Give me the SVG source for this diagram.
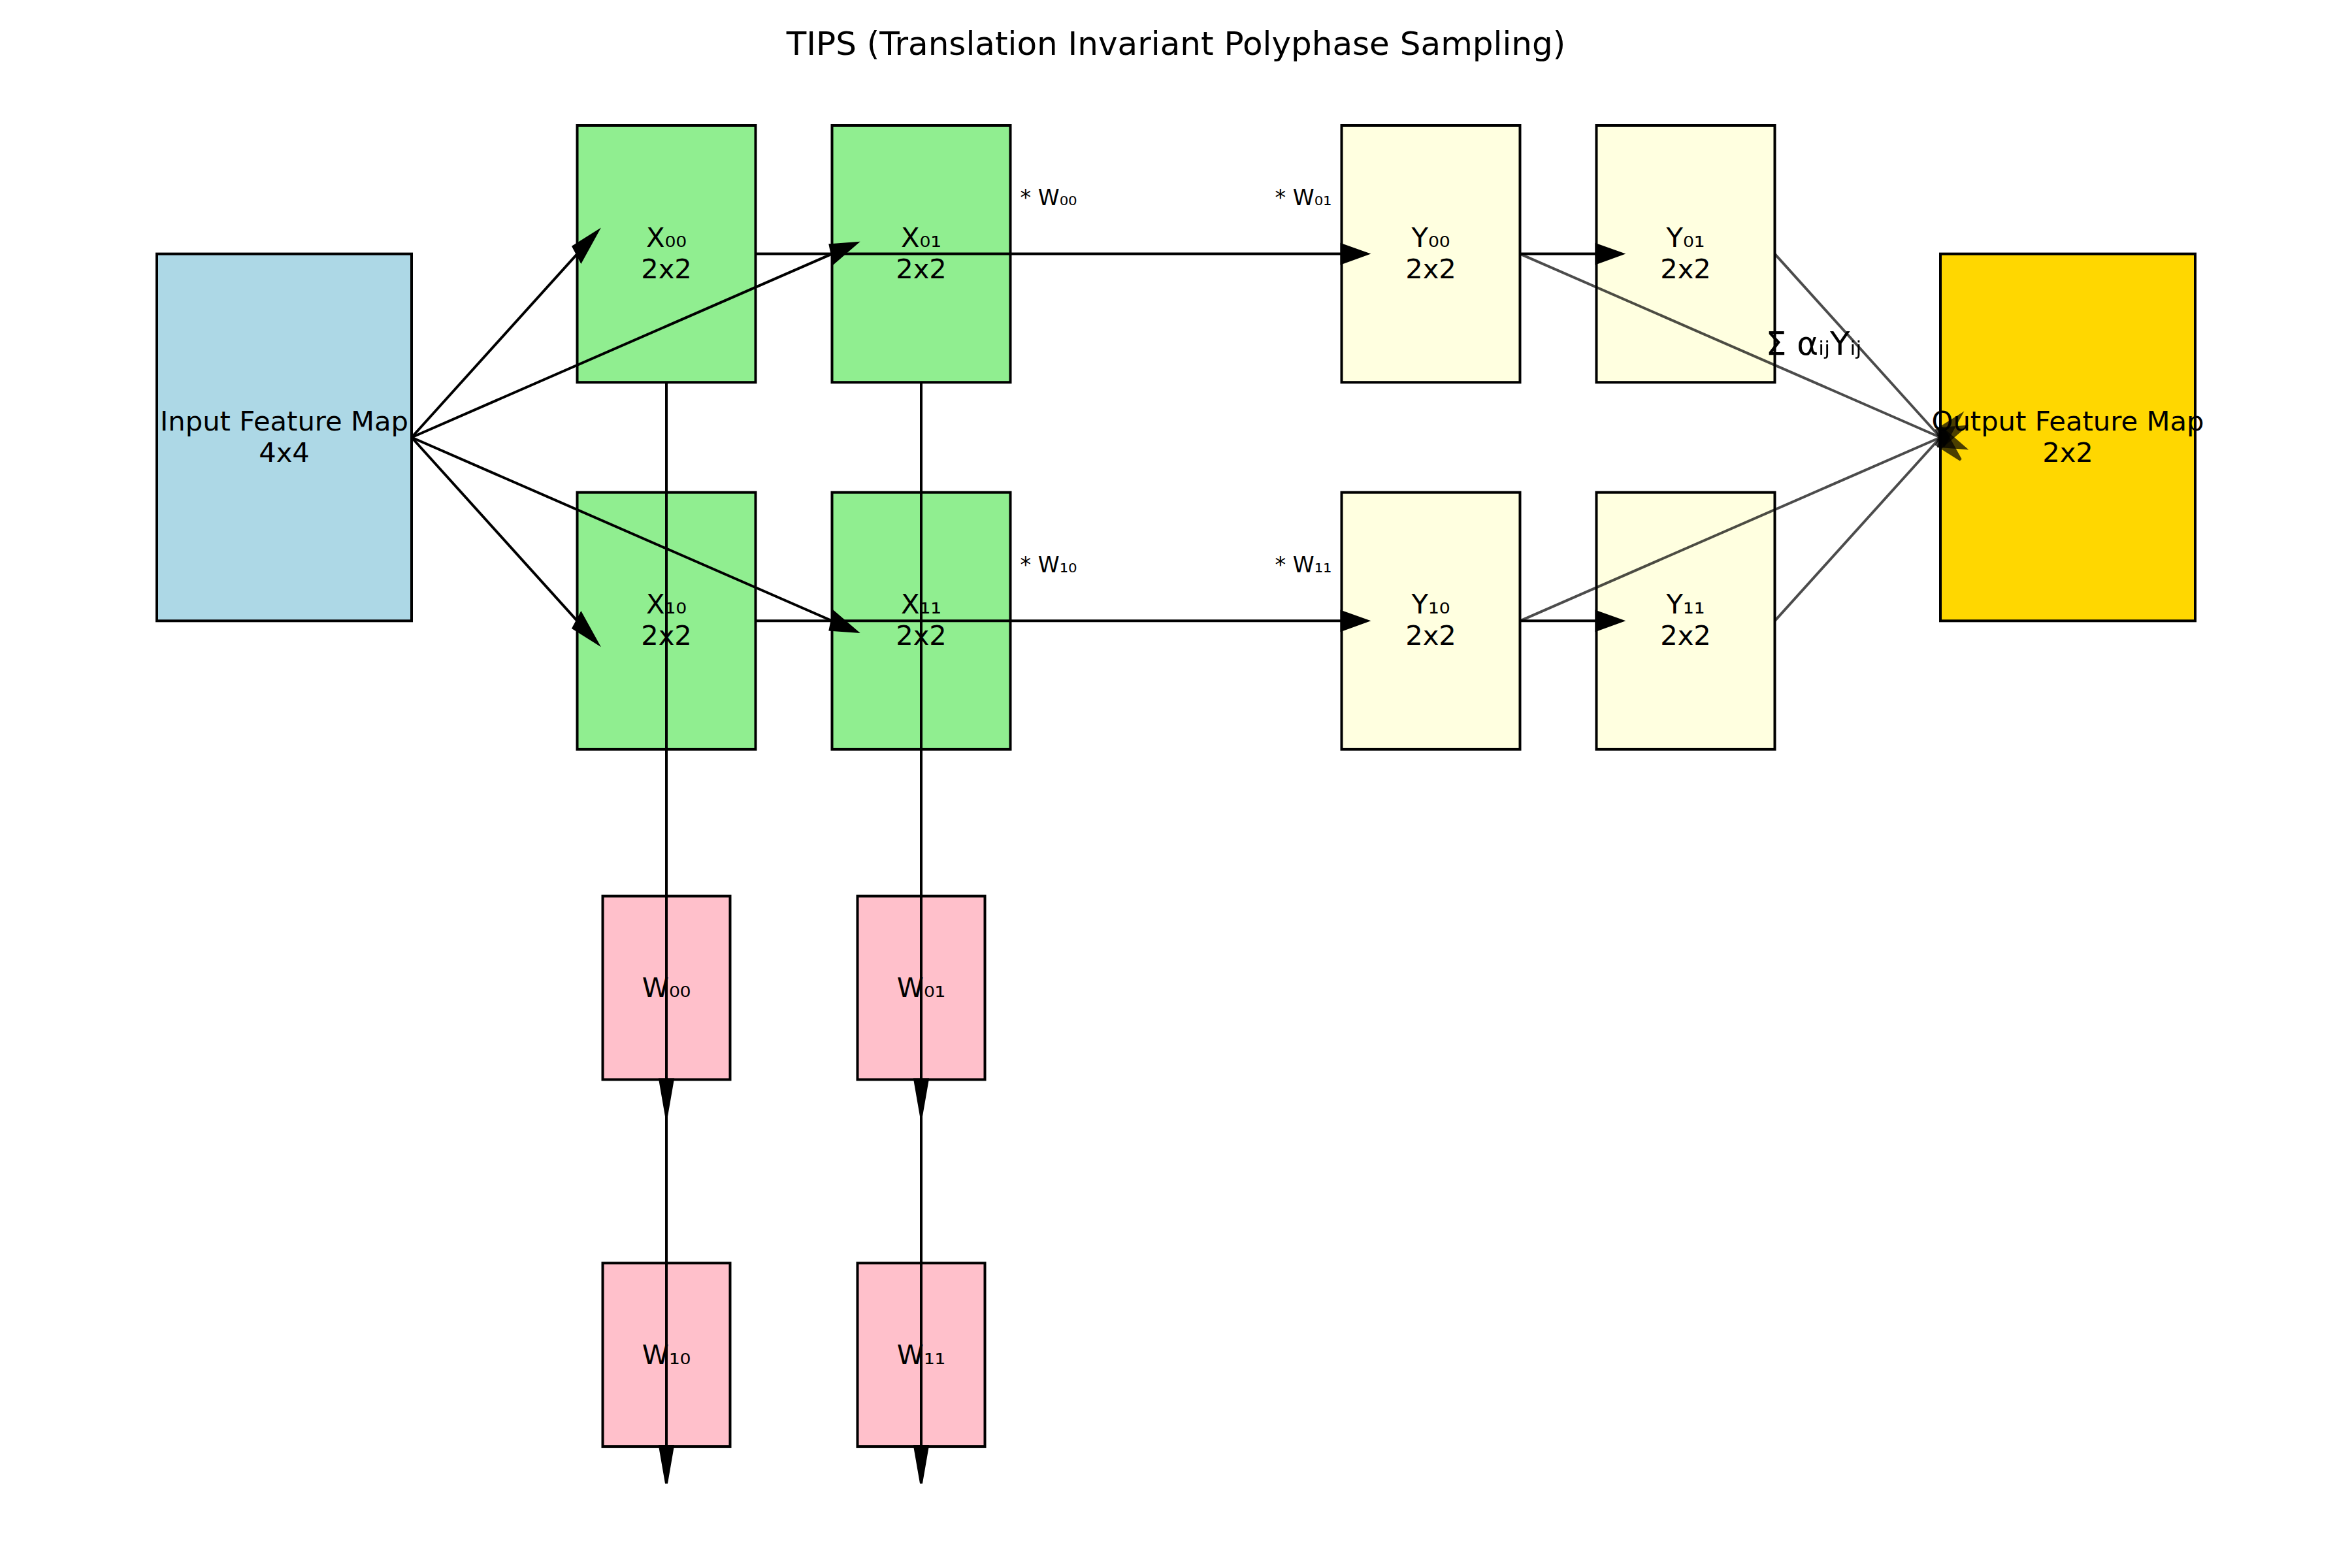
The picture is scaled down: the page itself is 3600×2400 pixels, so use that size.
<svg xmlns="http://www.w3.org/2000/svg" width="3600" height="2400" viewBox="0 0 3600 2400">
<style>
text{font-family:"DejaVu Sans","Liberation Sans",sans-serif;fill:#000}
.lbl{font-size:41.7px;text-anchor:middle}
.sm{font-size:33.3px;text-anchor:middle}
.big{font-size:50px;text-anchor:middle}
.box{stroke:#000;stroke-width:4}
.in{fill:#ADD8E6}.x{fill:#90EE90}.y{fill:#FFFFE0}.w{fill:#FFC0CB}.out{fill:#FFD700}
.ln{stroke:#000;stroke-width:4;fill:none}
.hd{fill:#000;stroke:#000;stroke-width:4}
</style>
<rect width="3600" height="2400" fill="#fff"/>
<text class="big" x="1800" y="84">TIPS (Translation Invariant Polyphase Sampling)</text>

<g id="input"><rect class="box in" x="240" y="388.6" width="390" height="561.7"/><text class="lbl" x="435" y="658.5">Input Feature Map</text><text class="lbl" x="435" y="706.5">4x4</text></g>
<g id="x00"><rect class="box x" x="883.5" y="192" width="273" height="393.2"/><text class="lbl" x="1020" y="377.6">X₀₀</text><text class="lbl" x="1020" y="425.6">2x2</text></g>
<g id="x01"><rect class="box x" x="1273.5" y="192" width="273" height="393.2"/><text class="lbl" x="1410" y="377.6">X₀₁</text><text class="lbl" x="1410" y="425.6">2x2</text></g>
<g id="x10"><rect class="box x" x="883.5" y="753.7" width="273" height="393.2"/><text class="lbl" x="1020" y="939.3">X₁₀</text><text class="lbl" x="1020" y="987.3">2x2</text></g>
<g id="x11"><rect class="box x" x="1273.5" y="753.7" width="273" height="393.2"/><text class="lbl" x="1410" y="939.3">X₁₁</text><text class="lbl" x="1410" y="987.3">2x2</text></g>
<g id="y00"><rect class="box y" x="2053.5" y="192" width="273" height="393.2"/><text class="lbl" x="2190" y="377.6">Y₀₀</text><text class="lbl" x="2190" y="425.6">2x2</text></g>
<g id="y01"><rect class="box y" x="2443.5" y="192" width="273" height="393.2"/><text class="lbl" x="2580" y="377.6">Y₀₁</text><text class="lbl" x="2580" y="425.6">2x2</text></g>
<g id="y10"><rect class="box y" x="2053.5" y="753.7" width="273" height="393.2"/><text class="lbl" x="2190" y="939.3">Y₁₀</text><text class="lbl" x="2190" y="987.3">2x2</text></g>
<g id="y11"><rect class="box y" x="2443.5" y="753.7" width="273" height="393.2"/><text class="lbl" x="2580" y="939.3">Y₁₁</text><text class="lbl" x="2580" y="987.3">2x2</text></g>
<g id="w00"><rect class="box w" x="922.5" y="1371.6" width="195" height="280.8"/><text class="lbl" x="1020" y="1526">W₀₀</text></g>
<g id="w01"><rect class="box w" x="1312.5" y="1371.6" width="195" height="280.8"/><text class="lbl" x="1410" y="1526">W₀₁</text></g>
<g id="w10"><rect class="box w" x="922.5" y="1933.3" width="195" height="280.8"/><text class="lbl" x="1020" y="2088">W₁₀</text></g>
<g id="w11"><rect class="box w" x="1312.5" y="1933.3" width="195" height="280.8"/><text class="lbl" x="1410" y="2088">W₁₁</text></g>
<g id="output"><rect class="box out" x="2970" y="388.6" width="390" height="561.7"/><text class="lbl" x="3165" y="658.5">Output Feature Map</text><text class="lbl" x="3165" y="706.5">2x2</text></g>

<g id="connectors">
<line class="ln" x1="630" y1="669.5" x2="883.5" y2="388.6"/><polygon class="hd" points="889.4,399.7 914.4,354.4 877.6,377.5"/>
<line class="ln" x1="630" y1="669.5" x2="1273.5" y2="388.6"/><polygon class="hd" points="1276.3,402 1310.8,372.3 1270.7,375.2"/>
<line class="ln" x1="630" y1="669.5" x2="883.5" y2="950.3"/><polygon class="hd" points="877.6,961.4 914.4,984.5 889.4,939.2"/>
<line class="ln" x1="630" y1="669.5" x2="1273.5" y2="950.3"/><polygon class="hd" points="1270.7,963.7 1310.8,966.6 1276.3,936.9"/>
<line class="ln" x1="1156.5" y1="388.6" x2="2053.5" y2="388.6"/><polygon class="hd" points="2053.5,374.6 2092.5,388.6 2053.5,402.6"/>
<line class="ln" x1="1156.5" y1="950.3" x2="2053.5" y2="950.3"/><polygon class="hd" points="2053.5,936.3 2092.5,950.3 2053.5,964.3"/>
<line class="ln" x1="2326.5" y1="388.6" x2="2443.5" y2="388.6"/><polygon class="hd" points="2443.5,374.6 2482.5,388.6 2443.5,402.6"/>
<line class="ln" x1="2326.5" y1="950.3" x2="2443.5" y2="950.3"/><polygon class="hd" points="2443.5,936.3 2482.5,950.3 2443.5,964.3"/>
<line class="ln" x1="1020" y1="585.2" x2="1020" y2="1652.4"/><polygon class="hd" points="1010.25,1652.4 1020,1708.6 1029.75,1652.4"/>
<line class="ln" x1="1020" y1="1652.4" x2="1020" y2="2214.1"/><polygon class="hd" points="1010.25,2214.1 1020,2270.3 1029.75,2214.1"/>
<line class="ln" x1="1410" y1="585.2" x2="1410" y2="1652.4"/><polygon class="hd" points="1400.25,1652.4 1410,1708.6 1419.75,1652.4"/>
<line class="ln" x1="1410" y1="1652.4" x2="1410" y2="2214.1"/><polygon class="hd" points="1400.25,2214.1 1410,2270.3 1419.75,2214.1"/>
<g opacity="0.7"><line class="ln" x1="2326.5" y1="388.6" x2="2970" y2="669.5"/><polygon class="hd" points="2967.2,682.9 3007.3,685.8 2972.8,656.1"/></g>
<g opacity="0.7"><line class="ln" x1="2716.5" y1="388.6" x2="2970" y2="669.5"/><polygon class="hd" points="2964.1,680.6 3000.9,703.8 2975.9,658.4"/></g>
<g opacity="0.7"><line class="ln" x1="2326.5" y1="950.3" x2="2970" y2="669.5"/><polygon class="hd" points="2972.8,682.9 3007.3,653.2 2967.2,656.1"/></g>
<g opacity="0.7"><line class="ln" x1="2716.5" y1="950.3" x2="2970" y2="669.5"/><polygon class="hd" points="2975.9,680.6 3000.9,635.3 2964.1,658.4"/></g>
</g>

<g id="labels">
<text class="sm" x="1605" y="314">* W₀₀</text>
<text class="sm" x="1995" y="314">* W₀₁</text>
<text class="sm" x="1605" y="876">* W₁₀</text>
<text class="sm" x="1995" y="876">* W₁₁</text>
<text class="big" x="2776" y="543">Σ αᵢⱼYᵢⱼ</text>
</g>
</svg>
